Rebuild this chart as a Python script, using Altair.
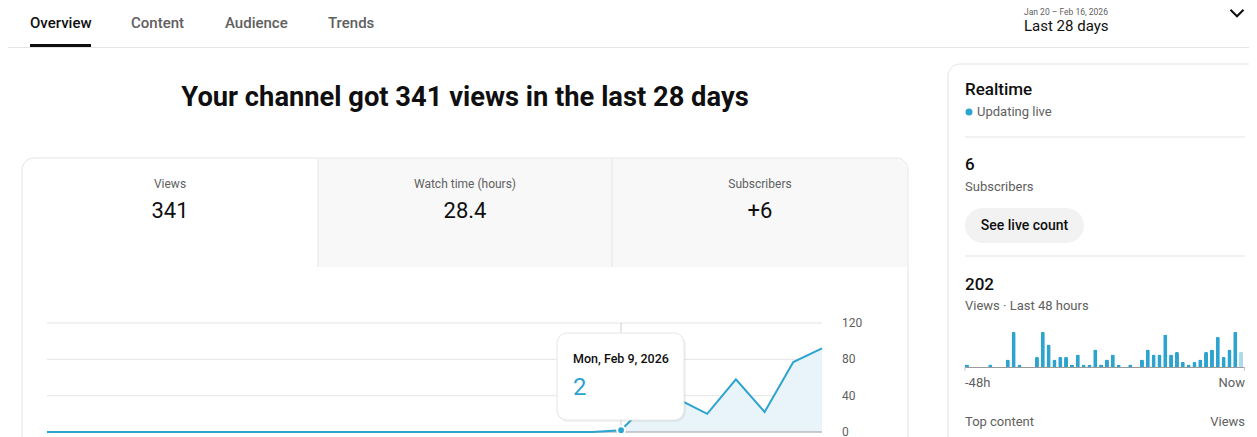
import altair as alt
import pandas as pd

# ---------------- data ----------------
days = ["Jan 20", "Jan 21", "Jan 22", "Jan 23", "Jan 24", "Jan 25", "Jan 26",
        "Jan 27", "Jan 28", "Jan 29", "Jan 30", "Jan 31", "Feb 1", "Feb 2",
        "Feb 3", "Feb 4", "Feb 5", "Feb 6", "Feb 7", "Feb 8", "Feb 9",
        "Feb 10", "Feb 11", "Feb 12", "Feb 13", "Feb 14", "Feb 15", "Feb 16"]
daily_views = [0, 0, 0, 0, 0, 0, 0, 0, 0, 0, 0, 0, 0, 0,
               0, 0, 0, 0, 0, 0, 2, 34, 36, 20, 58, 22, 77, 92]
y_ticks = [0, 40, 80, 120]
hover_day = "Feb 9"
hover_label = "Mon, Feb 9, 2026"

hour_offsets = list(range(-48, 0))
hourly_views = [1, 0, 0, 0, 1, 0, 0, 3, 14, 1, 0, 0, 4, 14, 9, 3,
                4, 4, 1, 5, 1, 1, 7, 1, 3, 5, 1, 0, 1, 0, 3, 7,
                5, 5, 13, 5, 6, 2, 1, 2, 3, 6, 7, 12, 4, 7, 14, 6]

nav_tabs = ["Overview", "Content", "Audience", "Trends"]
metric_names = ["Views", "Watch time (hours)", "Subscribers"]
metric_values = ["341", "28.4", "+6"]

# ---------------- styles ----------------
FONT = "Roboto"
DARK = "#0f0f0f"
GREY = "#606060"
LINE = "#e5e5e5"
BLUE = "#2da3d0"
LIGHTBLUE = "#abdaec"
AREA = "#e8f4f9"
OX, OY = 8, 8  # page margin offset

one = alt.Data(values=[{}])


def px(x):
    return alt.value(x - OX)


def py(y):
    return alt.value(y - OY)


def label(txt, x, y, size=13, color=GREY, weight="normal", align="left", baseline="middle"):
    return alt.Chart(one).mark_text(
        text=txt, font=FONT, fontSize=size, color=color, fontWeight=weight,
        align=align, baseline=baseline
    ).encode(x=px(x), y=py(y))


def box(x1, x2, y1, y2, fill="white", stroke=None, radius=0, opacity=1, **kw):
    args = dict(fill=fill, cornerRadius=radius, opacity=opacity, **kw)
    if stroke:
        args.update(stroke=stroke, strokeWidth=1)
    return alt.Chart(one).mark_rect(**args).encode(
        x=px(x1), x2=px(x2), y=py(y1), y2=py(y2))


def hline(x1, x2, y, color=LINE, width=1):
    return alt.Chart(one).mark_rule(color=color, strokeWidth=width).encode(
        x=px(x1), x2=px(x2), y=py(y))


def vline(x, y1, y2, color=LINE, width=1):
    return alt.Chart(one).mark_rule(color=color, strokeWidth=width).encode(
        x=px(x), y=py(y1), y2=py(y2))


layers = []

# ---------------- top navigation ----------------
nav_x = [30, 131, 225, 328]
for i, (t, x) in enumerate(zip(nav_tabs, nav_x)):
    layers.append(label(t, x, 23, size=15, color=DARK if i == 0 else GREY, weight=500))
layers.append(hline(0, 1262, 47.5, color=LINE))
layers.append(box(30, 91, 44, 47, fill=DARK))
layers.append(label("Jan 20 – Feb 16, 2026", 1024, 8, size=8.5, color=GREY, baseline="top"))
layers.append(label("Last 28 days", 1024, 25.5, size=15, color=DARK))
layers.append(
    alt.Chart(one).mark_point(shape="M-1,-0.5L0,0.5L1,-0.5", filled=False,
                              stroke=DARK, strokeWidth=2, size=170, opacity=1)
    .encode(x=px(1237), y=py(13))
)

# ---------------- headline ----------------
layers.append(label("Your channel got 341 views in the last 28 days", 465, 98,
                    size=27.3, color=DARK, weight="bold", align="center"))

# ---------------- main card ----------------
layers.append(box(22, 908, 158, 480, fill="white", stroke=LINE, radius=12))
layers.append(box(318, 612, 159, 267, fill="#f8f8f8"))
layers.append(box(612, 907, 159, 267, fill="#f8f8f8", cornerRadiusTopRight=11))
layers.append(vline(318, 159, 267))
layers.append(vline(612, 159, 267))
for name, val, cx in zip(metric_names, metric_values, [170, 465, 760]):
    layers.append(label(name, cx, 184, size=12, color=GREY, align="center"))
    layers.append(label(val, cx, 211, size=22, color=DARK, align="center"))

# ---------------- main line chart ----------------
daily = pd.DataFrame({"day": days, "views": daily_views})
ticks = pd.DataFrame({"v": y_ticks})
hover = pd.DataFrame({"day": [hover_day], "label": [hover_label],
                      "views": [daily_views[days.index(hover_day)]]})

X_MAIN = alt.Scale(type="point", domain=days, range=[47 - OX, 822 - OX], padding=0)
Y_MAIN = alt.Scale(domain=[0, 120], range=[432 - OY, 323 - OY], nice=False, zero=True)
xm = alt.X("day:O", scale=X_MAIN, axis=None, sort=None)

layers.append(
    alt.Chart(ticks).transform_filter("datum.v > 0").mark_rule(color=LINE)
    .encode(y=alt.Y("v:Q", scale=Y_MAIN, axis=None), x=px(47), x2=px(822))
)
layers.append(
    alt.Chart(hover).mark_rule(color="#cfcfcf")
    .encode(x=xm, y=py(323), y2=py(432))
)
layers.append(
    alt.Chart(daily).mark_area(color=AREA, opacity=1)
    .encode(x=xm, y=alt.Y("views:Q", scale=Y_MAIN, axis=None))
)
layers.append(
    alt.Chart(ticks).transform_filter("datum.v == 0").mark_rule(color="#9a9a9a")
    .encode(y=alt.Y("v:Q", scale=Y_MAIN, axis=None), x=px(47), x2=px(822))
)
layers.append(
    alt.Chart(daily).mark_line(color=BLUE, strokeWidth=2)
    .encode(x=xm, y=alt.Y("views:Q", scale=Y_MAIN, axis=None))
)
layers.append(
    alt.Chart(ticks).mark_text(align="left", baseline="middle", font=FONT,
                               fontSize=12, color=GREY)
    .encode(y=alt.Y("v:Q", scale=Y_MAIN, axis=None), text="v:Q", x=px(842))
)
# tooltip card
layers.append(box(557, 686, 334, 422, fill="#000000", radius=11, opacity=0.05))
layers.append(box(557, 684, 333, 420, fill="white", stroke="#e6e6e6", radius=10))
layers.append(
    alt.Chart(hover).mark_text(align="left", baseline="middle", font=FONT,
                               fontSize=12.5, color=DARK, fontWeight=500)
    .encode(text="label:N", x=px(573), y=py(359))
)
layers.append(
    alt.Chart(hover).mark_text(align="left", baseline="middle", font=FONT,
                               fontSize=24, color=BLUE)
    .encode(text="views:Q", x=px(573), y=py(388))
)
layers.append(
    alt.Chart(hover).mark_point(filled=True, color=BLUE, size=60, opacity=1,
                                stroke="white", strokeWidth=2)
    .encode(x=xm, y=alt.Y("views:Q", scale=Y_MAIN, axis=None))
)

# ---------------- realtime panel ----------------
layers.append(box(948, 1275, 64, 480, fill="white", stroke=LINE, radius=12))
layers.append(label("Realtime", 965, 90, size=17, color=DARK, weight=500))
layers.append(
    alt.Chart(one).mark_point(filled=True, color=BLUE, size=49, opacity=1)
    .encode(x=px(969), y=py(112))
)
layers.append(label("Updating live", 977, 112, size=13, color=GREY))
layers.append(hline(965, 1245, 137))
layers.append(label("6", 965, 165, size=17, color=DARK, weight=500))
layers.append(label("Subscribers", 965, 187, size=13, color=GREY))
layers.append(box(965, 1084, 208, 243, fill="#f2f2f2", radius=17.5))
layers.append(label("See live count", 1024.5, 225.5, size=14, color=DARK, weight=500,
                    align="center"))
layers.append(hline(965, 1245, 256))
layers.append(label("202", 965, 285, size=17, color=DARK, weight=500))
layers.append(label("Views · Last 48 hours", 965, 306, size=13, color=GREY))

hourly = pd.DataFrame({"hour": hour_offsets, "views": hourly_views})
X_BAR = alt.Scale(type="band", domain=hour_offsets, range=[964 - OX, 1244 - OX],
                  paddingInner=0.3, paddingOuter=0.15)
Y_BAR = alt.Scale(domain=[0, 14], range=[367 - OY, 332 - OY], nice=False, zero=True)
layers.append(
    alt.Chart(hourly).mark_bar(cornerRadiusTopLeft=1.5, cornerRadiusTopRight=1.5)
    .encode(
        x=alt.X("hour:O", scale=X_BAR, axis=None, sort=None),
        y=alt.Y("views:Q", scale=Y_BAR, axis=None),
        color=alt.condition("datum.hour == -1", alt.value(LIGHTBLUE), alt.value(BLUE)),
    )
)
layers.append(hline(965, 1245, 367.5, color="#9a9a9a"))
layers.append(vline(965, 367, 371, color="#c8c8c8"))
layers.append(vline(1244.5, 367, 371, color="#c8c8c8"))
layers.append(label("-48h", 965, 383, size=13, color=GREY))
layers.append(label("Now", 1245, 383, size=13, color=GREY, align="right"))
layers.append(label("Top content", 965, 422, size=13, color=GREY))
layers.append(label("Views", 1245, 422, size=13, color=GREY, align="right"))

chart = (
    alt.layer(*layers)
    .resolve_scale(x="independent", y="independent", color="independent")
    .properties(width=1241, height=429, padding=0,
                autosize=alt.AutoSizeParams(type="none"), background="white")
    .configure_view(stroke=None)
)

chart.save("out.html", embed_options={"renderer": "svg", "actions": False})
